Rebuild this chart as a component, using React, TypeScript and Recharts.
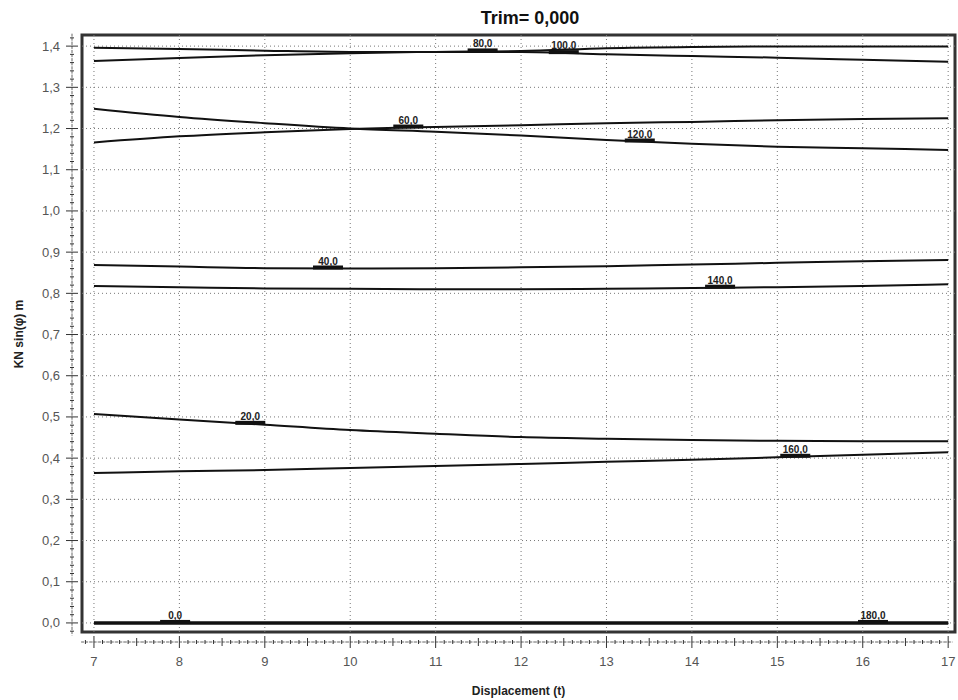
import React from 'react';
import { LineChart, Line, XAxis, YAxis, ReferenceLine, ReferenceArea, ReferenceDot } from 'recharts';

// displacement (t) sampled along the x axis
const displacement = [7, 8, 9, 10, 11, 12, 13, 14, 15, 16, 17];

// heel angles (deg), one curve each
const heelAngles = [0, 20, 40, 60, 80, 100, 120, 140, 160, 180];

// KN sin(phi) values, per heel angle
const kn0 = [0, 0, 0, 0, 0, 0, 0, 0, 0, 0, 0];
const kn20 = [0.507, 0.494, 0.481, 0.468, 0.459, 0.451, 0.447, 0.444, 0.442, 0.441, 0.441];
const kn40 = [0.869, 0.865, 0.861, 0.86, 0.861, 0.863, 0.866, 0.87, 0.874, 0.878, 0.881];
const kn60 = [1.166, 1.181, 1.191, 1.199, 1.204, 1.208, 1.213, 1.216, 1.22, 1.223, 1.225];
const kn80 = [1.364, 1.371, 1.378, 1.383, 1.386, 1.388, 1.395, 1.398, 1.399, 1.399, 1.399];
const kn100 = [1.396, 1.393, 1.389, 1.386, 1.386, 1.386, 1.38, 1.376, 1.372, 1.367, 1.362];
const kn120 = [1.248, 1.228, 1.213, 1.2, 1.192, 1.183, 1.172, 1.163, 1.156, 1.152, 1.148];
const kn140 = [0.818, 0.815, 0.812, 0.811, 0.81, 0.81, 0.811, 0.813, 0.815, 0.818, 0.822];
const kn160 = [0.364, 0.368, 0.371, 0.376, 0.381, 0.386, 0.391, 0.396, 0.402, 0.408, 0.414];
const kn180 = [0, 0, 0, 0, 0, 0, 0, 0, 0, 0, 0];

const series = [kn0, kn20, kn40, kn60, kn80, kn100, kn120, kn140, kn160, kn180];

// where the angle label sits along each curve (displacement)
const labelAt = [7.95, 8.83, 9.74, 10.68, 11.55, 12.5, 13.39, 14.33, 15.21, 16.12];

const xMajor = [7, 8, 9, 10, 11, 12, 13, 14, 15, 16, 17];
const yMajor = [0, 0.1, 0.2, 0.3, 0.4, 0.5, 0.6, 0.7, 0.8, 0.9, 1.0, 1.1, 1.2, 1.3, 1.4];

const xDomain = [6.86, 17.08];
const yDomain = [-0.022, 1.427];

// minor ticks every 0.1 t and 0.02 m
const xMinor: number[] = [];
for (let i = 69; i <= 170; i++) xMinor.push(Math.round(i) / 10);
const yMinor: number[] = [];
for (let i = -1; i <= 71; i++) yMinor.push(Math.round(i * 2) / 100);

const rows = displacement.map((x, i) => {
  const row: Record<string, number> = { x };
  heelAngles.forEach((a, k) => {
    row[`a${a}`] = series[k][i];
  });
  return row;
});

const valueAt = (vals: number[], x: number) => {
  for (let i = 0; i < displacement.length - 1; i++) {
    const x0 = displacement[i];
    const x1 = displacement[i + 1];
    if (x >= x0 && x <= x1) {
      const t = (x - x0) / (x1 - x0);
      return vals[i] + t * (vals[i + 1] - vals[i]);
    }
  }
  return vals[vals.length - 1];
};

const isStep = (v: number, step: number) => Math.abs(v / step - Math.round(v / step)) < 1e-6;
const fmt = (v: number, d: number) => v.toFixed(d).replace('.', ',');

const font = '"Liberation Sans", Arial, sans-serif';

const XTick = (props: any) => {
  const { x, y, payload } = props;
  const v = payload.value;
  const ay = y + 10;
  const size = isStep(v, 1) ? 6 : isStep(v, 0.5) ? 4 : 2;
  return (
    <g>
      <line x1={x - 4.3} x2={x + 4.3} y1={ay} y2={ay} stroke='#666' strokeDasharray='3 1' />
      <line x1={x} x2={x} y1={ay - size} y2={ay + size} stroke='#333' />
      {isStep(v, 1) && (
        <text x={x} y={ay + 24} textAnchor='middle' fontSize={13} fill='#555' fontFamily={font}>
          {v}
        </text>
      )}
    </g>
  );
};

const YTick = (props: any) => {
  const { x, y, payload } = props;
  const v = payload.value;
  const ax = x - 10;
  const major = isStep(v, 0.1);
  const size = major ? 6 : 2;
  return (
    <g>
      <line x1={ax} x2={ax} y1={y - 4.2} y2={y + 4.2} stroke='#666' strokeDasharray='3 1' />
      <line x1={ax - size} x2={ax + size} y1={y} y2={y} stroke='#333' />
      {major && v >= 0 && (
        <text x={60} y={y + 4.5} textAnchor='end' fontSize={13} fill='#555' fontFamily={font}>
          {fmt(v, 1)}
        </text>
      )}
    </g>
  );
};

const AngleLabel = (text: string) => (props: any) => {
  const { cx, cy } = props;
  return (
    <g>
      <rect x={cx - 15} y={cy - 3} width={30} height={4} fill='#111' />
      <text
        x={cx}
        y={cy - 4}
        textAnchor='middle'
        fontSize={10}
        fontWeight='bold'
        fill='#222'
        fontFamily={font}
      >
        {text}
      </text>
    </g>
  );
};

const App = () => {
  return (
    <div style={{ position: 'relative', width: 958, height: 700, background: '#fff' }}>
      <style>{'body{margin:0}'}</style>
      <div
        style={{
          position: 'absolute',
          left: 530,
          top: 18,
          transform: 'translate(-50%, -50%)',
          fontFamily: font,
          fontWeight: 'bold',
          fontSize: 18,
          color: '#111',
          whiteSpace: 'nowrap',
        }}
      >
        Trim= 0,000
      </div>
      <div
        style={{
          position: 'absolute',
          left: 19,
          top: 334,
          transform: 'translate(-50%, -50%) rotate(-90deg)',
          fontFamily: font,
          fontWeight: 'bold',
          fontSize: 12,
          color: '#222',
          whiteSpace: 'nowrap',
        }}
      >
        KN sin(φ) m
      </div>
      <LineChart
        width={958}
        height={700}
        data={rows}
        margin={{ top: 35, right: 3, left: 0, bottom: 0 }}
      >
        <XAxis
          dataKey='x'
          type='number'
          domain={xDomain}
          allowDataOverflow
          ticks={xMinor}
          interval={0}
          tickSize={0}
          tickMargin={0}
          axisLine={false}
          tickLine={false}
          tick={<XTick />}
          height={68}
          label={{
            value: 'Displacement (t)',
            position: 'insideBottom',
            offset: 5,
            style: { fontFamily: font, fontWeight: 'bold', fontSize: 12, fill: '#222' },
          }}
        />
        <YAxis
          type='number'
          domain={yDomain}
          allowDataOverflow
          ticks={yMinor}
          interval={0}
          tickSize={0}
          tickMargin={0}
          axisLine={false}
          tickLine={false}
          tick={<YTick />}
          width={82}
        />

        {xMajor.map((v) => (
          <ReferenceLine key={`gx-${v}`} x={v} stroke='#777' strokeDasharray='1 3' />
        ))}
        {yMajor.map((v) => (
          <ReferenceLine key={`gy-${v}`} y={v} stroke='#777' strokeDasharray='1 3' />
        ))}

        {heelAngles.map((a) => (
          <Line
            key={a}
            type='monotone'
            dataKey={`a${a}`}
            stroke='#111'
            strokeWidth={a === 0 || a === 180 ? 3 : 2}
            dot={false}
            activeDot={false}
            isAnimationActive={false}
          />
        ))}

        {heelAngles.map((a, k) => (
          <ReferenceDot
            key={`lbl-${a}`}
            x={labelAt[k]}
            y={valueAt(series[k], labelAt[k])}
            ifOverflow='visible'
            shape={AngleLabel(fmt(a, 1))}
          />
        ))}

        <ReferenceArea
          x1={xDomain[0]}
          x2={xDomain[1]}
          y1={yDomain[0]}
          y2={yDomain[1]}
          fill='none'
          stroke='#333'
          strokeWidth={3}
          ifOverflow='visible'
        />
      </LineChart>
    </div>
  );
};

export default App;
